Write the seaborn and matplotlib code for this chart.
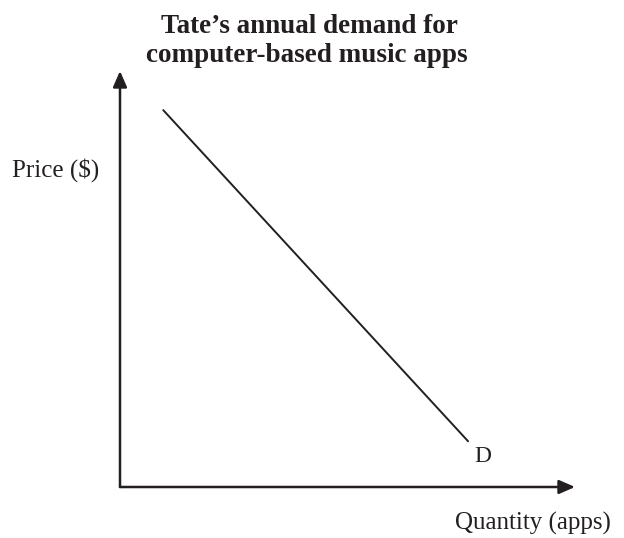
import matplotlib
matplotlib.use("Agg")
import matplotlib.pyplot as plt
import seaborn as sns
import pandas as pd

# demand curve end points (arbitrary units, no ticks shown)
quantity = [0.95, 7.65]
price = [9.06, 1.1]
curve_label = "D"

title_lines = ["Tate\u2019s annual demand for", "computer-based music apps"]
x_label = "Quantity (apps)"
y_label = "Price ($)"

sns.set_theme(style="white")
plt.rcParams['font.family'] = ['Liberation Serif', 'DejaVu Serif']

df = pd.DataFrame({"quantity": quantity, "price": price})

fig = plt.figure(figsize=(6.24, 5.38), dpi=100)
ax = fig.add_axes([120 / 624, 51 / 538, 455 / 624, 416 / 538])

sns.lineplot(data=df, x="quantity", y="price", color="#231f20", linewidth=1.4, ax=ax)

ax.set_xlim(0, 10)
ax.set_ylim(0, 10)
ax.set_xticks([])
ax.set_yticks([])
ax.set_xlabel("")
ax.set_ylabel("")
for s in ax.spines.values():
    s.set_visible(False)

# axes with arrow heads
arrow_style = dict(arrowstyle="-|>,head_length=0.8,head_width=0.35", color="#231f20",
                   lw=1.8, shrinkA=0, shrinkB=0)
ax.annotate("", xy=(0, 1), xytext=(0, 0), xycoords="axes fraction",
            arrowprops=arrow_style, annotation_clip=False)
ax.annotate("", xy=(1, 0), xytext=(0, 0), xycoords="axes fraction",
            arrowprops=arrow_style, annotation_clip=False)

ax.annotate(curve_label, xy=(quantity[-1], price[-1]), xytext=(6, -5),
            textcoords="offset pixels", fontsize=17, ha="left", va="top", color="#231f20")

fig.text(12 / 624, 1 - 170 / 538, y_label, fontsize=18, ha="left", va="center", color="#231f20")
fig.text(611 / 624, 1 - 530 / 538, x_label, fontsize=18, ha="right", va="baseline", color="#231f20")
fig.text(309 / 624, 1 - 33 / 538, title_lines[0], fontsize=19.5, fontweight="bold",
         ha="center", va="baseline", color="#231f20")
fig.text(307 / 624, 1 - 62 / 538, title_lines[1], fontsize=19.5, fontweight="bold",
         ha="center", va="baseline", color="#231f20")

fig.savefig("out.png", dpi=100)
